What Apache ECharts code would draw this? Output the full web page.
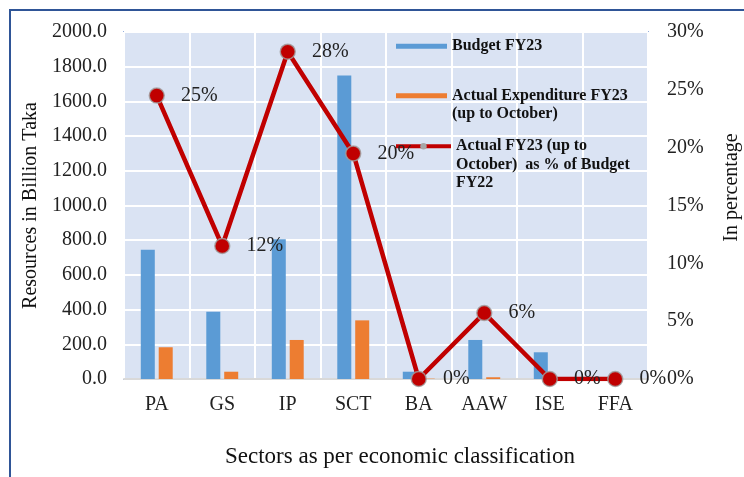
<!DOCTYPE html>
<html>
<head>
<meta charset="utf-8">
<script src="https://cdn.jsdelivr.net/npm/echarts@6/dist/echarts.min.js"></script>
<style>
  html, body { margin: 0; padding: 0; background: #fff; }
  #chart { width: 744px; height: 477px; }
</style>
</head>
<body>
<div id="chart"></div>
<script>
// sectors and values
const sectors = ['PA', 'GS', 'IP', 'SCT', 'BA', 'AAW', 'ISE', 'FFA'];
const budgetFY23 = [745, 388, 805, 1750, 42, 225, 154, 0];
const actualFY23 = [183, 42, 225, 338, 2, 10, 1, 0];
const actualPct = [24.5, 11.5, 28.3, 19.5, 0, 5.7, 0, 0];

const serif = "'Liberation Serif', 'Times New Roman', serif";

const chart = echarts.init(document.getElementById('chart'));

const legendText = {
  fontFamily: serif,
  fontWeight: 'bold',
  fontSize: 16,
  lineHeight: 18.5,
  color: '#111'
};

chart.setOption({
  animation: false,
  graphic: [{
    type: 'rect',
    shape: { x: 10, y: 10, width: 780, height: 520 },
    style: { fill: 'none', stroke: '#2F5597', lineWidth: 2 },
    silent: true
  }],
  grid: {
    left: 124, right: 96, top: 32, bottom: 98,
    outerBoundsMode: 'none',
    containLabel: false,
    show: true,
    backgroundColor: '#DAE3F3',
    borderColor: '#4472C4',
    borderWidth: 1.5
  },
  legend: [
    {
      data: ['Budget FY23'],
      left: 396, top: 37, padding: 0,
      icon: 'rect', itemWidth: 51, itemHeight: 5,
      textStyle: legendText
    },
    {
      data: ['Actual Expenditure'],
      left: 396, top: 68, padding: 0,
      icon: 'rect', itemWidth: 51, itemHeight: 5,
      // leading blank line keeps the icon level with the first text line
      formatter: '\nActual Expenditure FY23\n(up to October)',
      textStyle: legendText
    },
    {
      data: [{ name: 'Actual pct', itemStyle: { color: '#a6a6a6', borderWidth: 0 } }],
      left: 394, top: 100, padding: 0,
      itemWidth: 55, itemHeight: 8,
      lineStyle: { width: 4 },
      formatter: '\n\nActual FY23 (up to\nOctober)  as % of Budget\nFY22',
      textStyle: legendText
    }
  ],
  xAxis: {
    type: 'category',
    data: sectors,
    name: 'Sectors as per economic classification',
    nameLocation: 'middle',
    nameGap: 66,
    nameTextStyle: { fontFamily: serif, fontSize: 23, color: '#111', padding: [0, 0, 0, 28] },
    axisLine: { lineStyle: { color: '#d9d9d9', width: 2 } },
    axisTick: { show: false },
    axisLabel: { fontFamily: serif, fontSize: 20, color: '#222', margin: 16, interval: 0 },
    splitLine: { show: true, interval: 0, lineStyle: { color: '#ffffff', width: 2 } }
  },
  yAxis: [
    {
      type: 'value',
      min: 0, max: 2000, interval: 200,
      name: 'Resources in Billion Taka',
      nameLocation: 'middle',
      nameGap: 82,
      nameTextStyle: { fontFamily: serif, fontSize: 20, color: '#111' },
      axisLine: { show: false },
      axisTick: { show: false },
      axisLabel: {
        fontFamily: serif, fontSize: 20, color: '#222', margin: 17,
        formatter: v => v.toFixed(1)
      },
      splitLine: { lineStyle: { color: '#ffffff', width: 2 } }
    },
    {
      type: 'value',
      min: 0, max: 30, interval: 5,
      name: 'In percentage',
      nameLocation: 'middle',
      nameGap: 74,
      nameTextStyle: { fontFamily: serif, fontSize: 20, color: '#111', padding: [0, 0, 0, 36] },
      axisLine: { show: false },
      axisTick: { show: false },
      axisLabel: { fontFamily: serif, fontSize: 20, color: '#222', margin: 19, formatter: '{value}%' },
      splitLine: { show: false }
    }
  ],
  series: [
    {
      name: 'Budget FY23',
      type: 'bar',
      data: budgetFY23,
      barWidth: 14,
      barGap: '28%',
      itemStyle: { color: '#5B9BD5' }
    },
    {
      name: 'Actual Expenditure',
      type: 'bar',
      data: actualFY23,
      barWidth: 14,
      barGap: '28%',
      itemStyle: { color: '#ED7D31' }
    },
    {
      name: 'Actual pct',
      type: 'line',
      yAxisIndex: 1,
      data: actualPct,
      symbol: 'circle',
      symbolSize: 15,
      z: 5,
      lineStyle: { color: '#C00000', width: 4.5 },
      itemStyle: { color: '#C00000', borderColor: 'rgba(160,160,160,0.8)', borderWidth: 1.5 },
      label: {
        show: true,
        position: 'right',
        distance: 16,
        fontFamily: serif,
        fontSize: 20,
        color: '#222',
        formatter: p => Math.round(p.value) + '%'
      }
    }
  ]
});
</script>
</body>
</html>
